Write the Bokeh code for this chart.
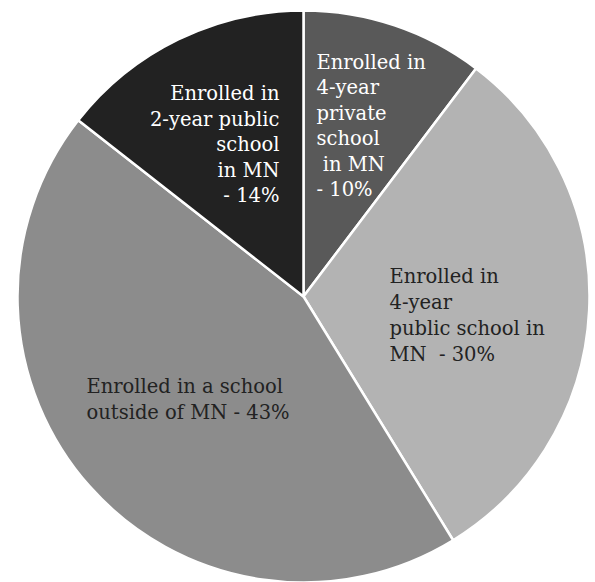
import math
from bokeh.plotting import figure
from bokeh.models import ColumnDataSource, Range1d
from bokeh.core.properties import value
from bokeh.embed import file_html
from bokeh.resources import INLINE

# ---- data ----
categories = [
    "Enrolled in 4-year private school in MN",
    "Enrolled in 4-year public school in MN",
    "Enrolled in a school outside of MN",
    "Enrolled in 2-year public school in MN",
]
percents = [10, 30, 43, 14]
colors = ["#595959", "#b3b3b3", "#8c8c8c", "#222222"]
label_lines = [
    ["Enrolled in", "4-year", "private", "school", "\u00a0in MN", "- 10%"],
    ["Enrolled in", "4-year", "public school in", "MN\u00a0 - 30%"],
    ["Enrolled in a school", "outside of MN - 43%"],
    ["Enrolled in", "2-year public", "school", "in MN", "- 14%"],
]
label_colors = ["white", "#222222", "#222222", "white"]

# ---- layout ----
W, H = 595, 582
CX, CY, R = 303, 286, 286
FONT = "DejaVu Serif"
FS = "19.5px"

total = sum(percents)
starts, ends = [], []
acc = 0.0
for v in percents:
    starts.append(math.pi / 2 - acc / total * 2 * math.pi)
    acc += v
    ends.append(math.pi / 2 - acc / total * 2 * math.pi)

src = ColumnDataSource(dict(cat=categories, pct=percents, color=colors,
                            start=starts, end=ends))

p = figure(width=W, height=H, output_backend="svg", toolbar_location=None,
           x_range=Range1d(0, W), y_range=Range1d(0, H), min_border=0)
p.axis.visible = False
p.grid.visible = False
p.outline_line_color = None
p.background_fill_color = "white"
p.border_fill_color = "white"

p.wedge(x=CX, y=CY, radius=R, start_angle="start", end_angle="end",
        direction="clock", fill_color="color", line_color="white",
        line_width=2.5, source=src)

# label anchors in screen pixels (converted to data y)
anchors = [
    (316, 62, 25.4, "left"),
    (389, 276, 26.0, "left"),
    (86, 386, 26.0, "left"),
    (279, 93, 25.5, "right"),
]
for lines, col, (px, py, step, align) in zip(label_lines, label_colors, anchors):
    xs = [px] * len(lines)
    ys = [H - (py + i * step) for i in range(len(lines))]
    p.text(x=xs, y=ys, text=lines, text_color=col, text_font=value(FONT),
           text_font_size=FS, text_align=align, text_baseline="middle")

open("out.html", "w").write(file_html(p, INLINE))
